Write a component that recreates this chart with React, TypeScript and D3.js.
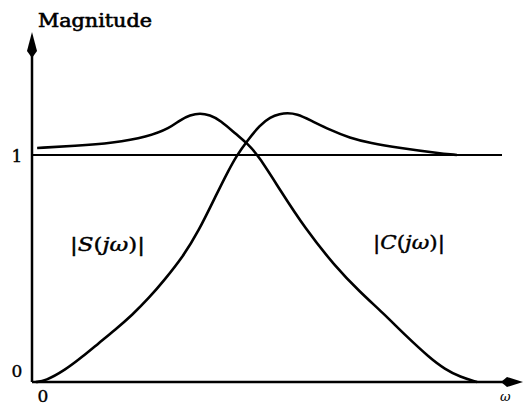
import React from "react";
import * as d3 from "d3";

// Frequency samples (ω) and magnitudes for the sensitivity |S(jω)|
const sOmega = [0.08, 0.28, 0.71, 1.07, 1.43, 1.77, 2.14, 2.5, 2.84, 3.21, 3.55, 3.95, 4.18, 4.38, 4.59, 4.87, 5.09, 5.3, 5.45, 5.66, 5.94, 6.37, 6.79, 7.22, 7.86, 8.65, 9.08];
const sMag = [0, 0.004, 0.053, 0.11, 0.172, 0.229, 0.295, 0.37, 0.452, 0.548, 0.66, 0.83, 0.925, 1.0, 1.06, 1.132, 1.167, 1.181, 1.185, 1.181, 1.154, 1.11, 1.075, 1.053, 1.031, 1.009, 1.0];

// Frequency samples (ω) and magnitudes for the complementary sensitivity |C(jω)|
const cOmega = [0.11, 0.92, 1.73, 2.46, 2.95, 3.16, 3.38, 3.59, 3.8, 4.02, 4.38, 4.59, 4.83, 5.3, 5.83, 6.47, 7.01, 7.5, 7.97, 8.5, 8.82, 9.15, 9.51];
const cMag = [1.031, 1.04, 1.053, 1.079, 1.119, 1.154, 1.176, 1.185, 1.176, 1.154, 1.088, 1.053, 1.0, 0.846, 0.678, 0.511, 0.396, 0.304, 0.207, 0.106, 0.057, 0.022, 0];

const yTicks = [0, 1];
const xTicks = [0];
const unityLevel = 1;

export default function App() {
  const W = 523;
  const H = 408;
  const x = d3.scaleLinear().domain([0, 10]).range([32, 500]);
  const y = d3.scaleLinear().domain([0, 1]).range([382, 155]);

  const line = d3
    .line<[number, number]>()
    .x((d) => x(d[0]))
    .y((d) => y(d[1]))
    .curve(d3.curveBasis);

  const sPath = line(sOmega.map((w, i) => [w, sMag[i]] as [number, number])) || "";
  const cPath = line(cOmega.map((w, i) => [w, cMag[i]] as [number, number])) || "";

  const x0 = x(0);
  const y0 = y(0);
  const serif = "'DejaVu Serif', 'Liberation Serif', serif";

  return (
    <svg
      width={W}
      height={H}
      style={{ position: "absolute", left: 0, top: 0, background: "#fff" }}
      fontFamily={serif}
    >
      {/* axes */}
      <line x1={x0} y1={y0} x2={x0} y2={40} stroke="#000" strokeWidth={2.5} />
      <path d={`M${x0},32 L${x0 + 5},51 L${x0},58 L${x0 - 5},51 Z`} fill="#000" />
      <line x1={x0} y1={y0} x2={512} y2={y0} stroke="#000" strokeWidth={2.5} />
      <path d={`M523,${y0} L507,${y0 - 5} L501,${y0} L507,${y0 + 5} Z`} fill="#000" />

      {/* unity magnitude reference */}
      <line x1={x0} y1={y(unityLevel)} x2={502} y2={y(unityLevel)} stroke="#000" strokeWidth={2.2} />

      {/* curves */}
      <path d={cPath} fill="none" stroke="#000" strokeWidth={2.6} strokeLinejoin="round" />
      <path d={sPath} fill="none" stroke="#000" strokeWidth={2.6} strokeLinejoin="round" />

      {/* tick labels */}
      {yTicks.map((t) => (
        <text key={"y" + t} x={17} y={y(t) + (t === 0 ? -5 : 7)} fontSize={17} textAnchor="middle" stroke="#000" strokeWidth={0.4}>
          {t}
        </text>
      ))}
      {xTicks.map((t) => (
        <text key={"x" + t} x={x(t) + 11} y={402} fontSize={17} textAnchor="middle" stroke="#000" strokeWidth={0.4}>
          {t}
        </text>
      ))}

      {/* axis titles */}
      <text
        x={38}
        y={27}
        fontSize={18}
        stroke="#000"
        strokeWidth={0.6}
        textLength={114}
        lengthAdjust="spacingAndGlyphs"
      >
        Magnitude
      </text>
      <text x={500} y={401} fontSize={13} fontStyle="italic">
        ω
      </text>

      {/* curve labels */}
      <text x={70} y={251} fontSize={18} textLength={75} lengthAdjust="spacingAndGlyphs" stroke="#000" strokeWidth={0.4}>
        <tspan>|</tspan>
        <tspan fontStyle="italic">S</tspan>
        <tspan>(</tspan>
        <tspan fontStyle="italic">jω</tspan>
        <tspan>)|</tspan>
      </text>
      <text x={373} y={249} fontSize={18} textLength={72} lengthAdjust="spacingAndGlyphs" stroke="#000" strokeWidth={0.4}>
        <tspan>|</tspan>
        <tspan fontStyle="italic">C</tspan>
        <tspan>(</tspan>
        <tspan fontStyle="italic">jω</tspan>
        <tspan>)|</tspan>
      </text>
    </svg>
  );
}
